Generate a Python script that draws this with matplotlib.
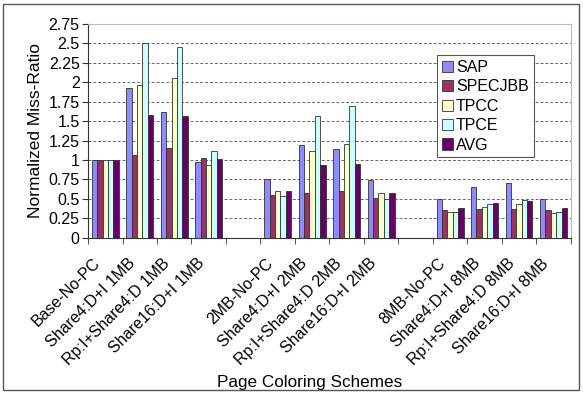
import numpy as np
import matplotlib
matplotlib.use('Agg')
import matplotlib.pyplot as plt
import matplotlib.transforms as mtransforms
from matplotlib.patches import Rectangle

plt.rcParams['font.family'] = ['Liberation Sans', 'DejaVu Sans']

# 方案名称（空串为分组间隔）
schemes = ['Base-No-PC', 'Share4:D+I 1MB', 'Rp:I+Share4:D 1MB', 'Share16:D+I 1MB', '',
           '2MB-No-PC', 'Share4:D+I 2MB', 'Rp:I+Share4:D 2MB', 'Share16:D+I 2MB', '',
           '8MB-No-PC', 'Share4:D+I 8MB', 'Rp:I+Share4:D 8MB', 'Share16:D+I 8MB']

nan = np.nan
sap     = [1.00, 1.92, 1.62, 0.97, nan, 0.75, 1.19, 1.14, 0.74, nan, 0.50, 0.65, 0.70, 0.50]
specjbb = [1.00, 1.06, 1.16, 1.03, nan, 0.55, 0.57, 0.60, 0.51, nan, 0.35, 0.37, 0.37, 0.35]
tpcc    = [1.00, 1.96, 2.05, 0.94, nan, 0.60, 1.11, 1.20, 0.57, nan, 0.33, 0.40, 0.43, 0.32]
tpce    = [1.00, 2.50, 2.46, 1.11, nan, 0.53, 1.57, 1.70, 0.50, nan, 0.33, 0.43, 0.49, 0.33]
avg     = [1.00, 1.58, 1.56, 1.01, nan, 0.60, 0.93, 0.95, 0.57, nan, 0.38, 0.45, 0.47, 0.38]

series = ['SAP', 'SPECJBB', 'TPCC', 'TPCE', 'AVG']
colors = ['#8c8cff', '#993366', '#ffffcc', '#ccffff', '#660066']

fig = plt.figure(figsize=(5.83, 3.94), dpi=100)
ax = fig.add_axes([0.151, 0.397, 0.828, 0.542])

x = np.arange(len(schemes))
w = 0.156
for k, (name, vals) in enumerate(zip(series, [sap, specjbb, tpcc, tpce, avg])):
    ax.bar(x + (k - 2) * w, vals, w, color=colors[k], edgecolor='#333333',
           linewidth=0.6, label=name, zorder=3)

ax.set_xlim(-0.5, len(schemes) - 0.5)
ax.set_ylim(0, 2.75)
ax.set_yticks(np.arange(0, 2.76, 0.25))
ax.set_yticklabels(['0', '0.25', '0.5', '0.75', '1', '1.25', '1.5', '1.75', '2',
                    '2.25', '2.5', '2.75'], fontsize=11.5)
ax.yaxis.grid(True, linestyle=(0, (3, 2)), color='#666666', linewidth=0.7, zorder=0)
ax.tick_params(axis='y', length=4, color='#333333', pad=2)

ax.set_xticks(x)
ax.set_xticklabels(schemes, rotation=45, ha='right', va='center', rotation_mode='anchor',
                   fontsize=11.5)
ax.tick_params(axis='x', which='major', length=0, pad=14)
# 标签整体往左下挪一点
shift = mtransforms.ScaledTranslation(-0.07, -0.04, fig.dpi_scale_trans)
for lbl in ax.get_xticklabels():
    lbl.set_transform(lbl.get_transform() + shift)
ax.set_xticks(np.arange(-0.5, len(schemes), 1), minor=True)
ax.tick_params(axis='x', which='minor', length=4, color='#333333', direction='out')

for s in ['top', 'right']:
    ax.spines[s].set_color('#bbbbbb')
for s in ['left', 'bottom']:
    ax.spines[s].set_color('#333333')

ax.set_ylabel('Normalized Miss-Ratio', fontsize=12.5, labelpad=4)
fig.text(310 / 583, 1 - 382 / 394, 'Page Coloring Schemes', ha='center', va='center', fontsize=12.3)

leg = ax.legend(loc='upper left', bbox_to_anchor=(0.7226, 0.855), borderaxespad=0,
                fontsize=11.5, handlelength=0.7, handleheight=0.7, handletextpad=0.2,
                labelspacing=0.28, borderpad=0.3, fancybox=False,
                edgecolor='#555555', framealpha=1)
leg.get_frame().set_linewidth(0.8)

fig.patches.append(Rectangle((3 / 583, 4 / 394), 576 / 583, 386 / 394, transform=fig.transFigure,
                             fill=False, edgecolor='#555555', linewidth=1))

fig.savefig('out.png', dpi=100)
